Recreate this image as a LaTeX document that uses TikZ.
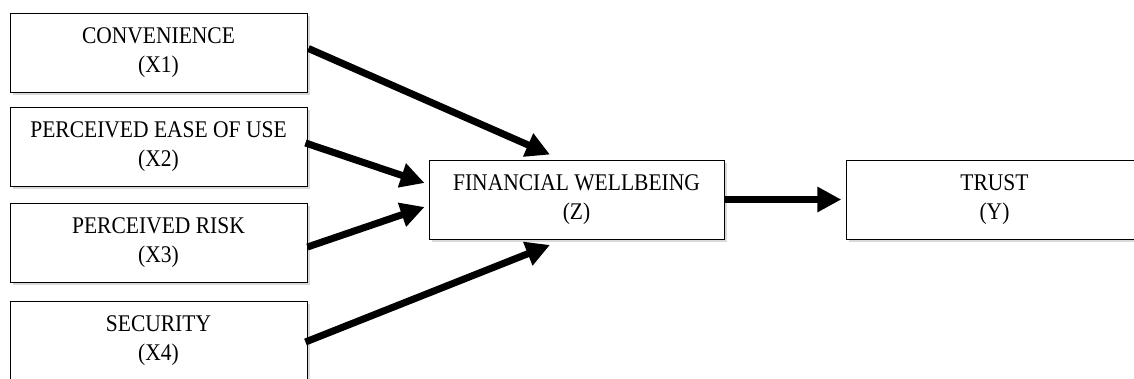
\documentclass[tikz,border=0pt]{standalone}
\usepackage{fontspec}
\setmainfont[FakeStretch=0.9]{Liberation Serif}
\usetikzlibrary{arrows.meta,calc,shadows}

\begin{document}
\begin{tikzpicture}[x=0.025cm, y=-0.025cm]
      \tikzstyle{factor}=[draw=black, line width=0.6pt, fill=white, minimum width=7.425cm, minimum height=1.975cm, inner sep=0pt, align=center, font=\fontsize{17}{20.5}\selectfont, drop shadow={shadow xshift=2pt, shadow yshift=-2pt, fill=black!15, opacity=1}]
      \tikzstyle{link}=[line width=5pt, -{Triangle[length=17pt, width=17pt]}]

      \useasboundingbox (0,0) rectangle (1134,378);

      \node[factor] (X1) at (158.5, 52.5) {CONVENIENCE\\(X1)};
      \node[factor] (X2) at (158.5, 147) {PERCEIVED EASE OF USE\\(X2)};
      \node[factor] (X3) at (158.5, 242.5) {PERCEIVED RISK\\(X3)};
      \node[factor] (X4) at (158.5, 340.5) {SECURITY\\(X4)};
      \node[factor, minimum width=7.375cm] (Z) at (576.5, 199.5) {FINANCIAL WELLBEING\\(Z)};
      \node[factor] (Y) at (994.5, 199.5) {TRUST\\(Y)};

      \draw[link] ($(X1.east)+(1,-4)$) -- ($(Z.north)+(-26.5,-5)$);
      \draw[link] ($(X2.east)+(-2,-4)$) -- ($(Z.west)+(-4,-16.5)$);
      \draw[link] ($(X3.east)+(0,4.5)$) -- ($(Z.west)+(-4,7.5)$);
      \draw[link] ($(X4.east)+(-2,1.5)$) -- ($(Z.south)+(-26.5,5.5)$);
      \draw[link, shorten >=3pt] (Z.east) -- (Y.west);
\end{tikzpicture}
\end{document}
